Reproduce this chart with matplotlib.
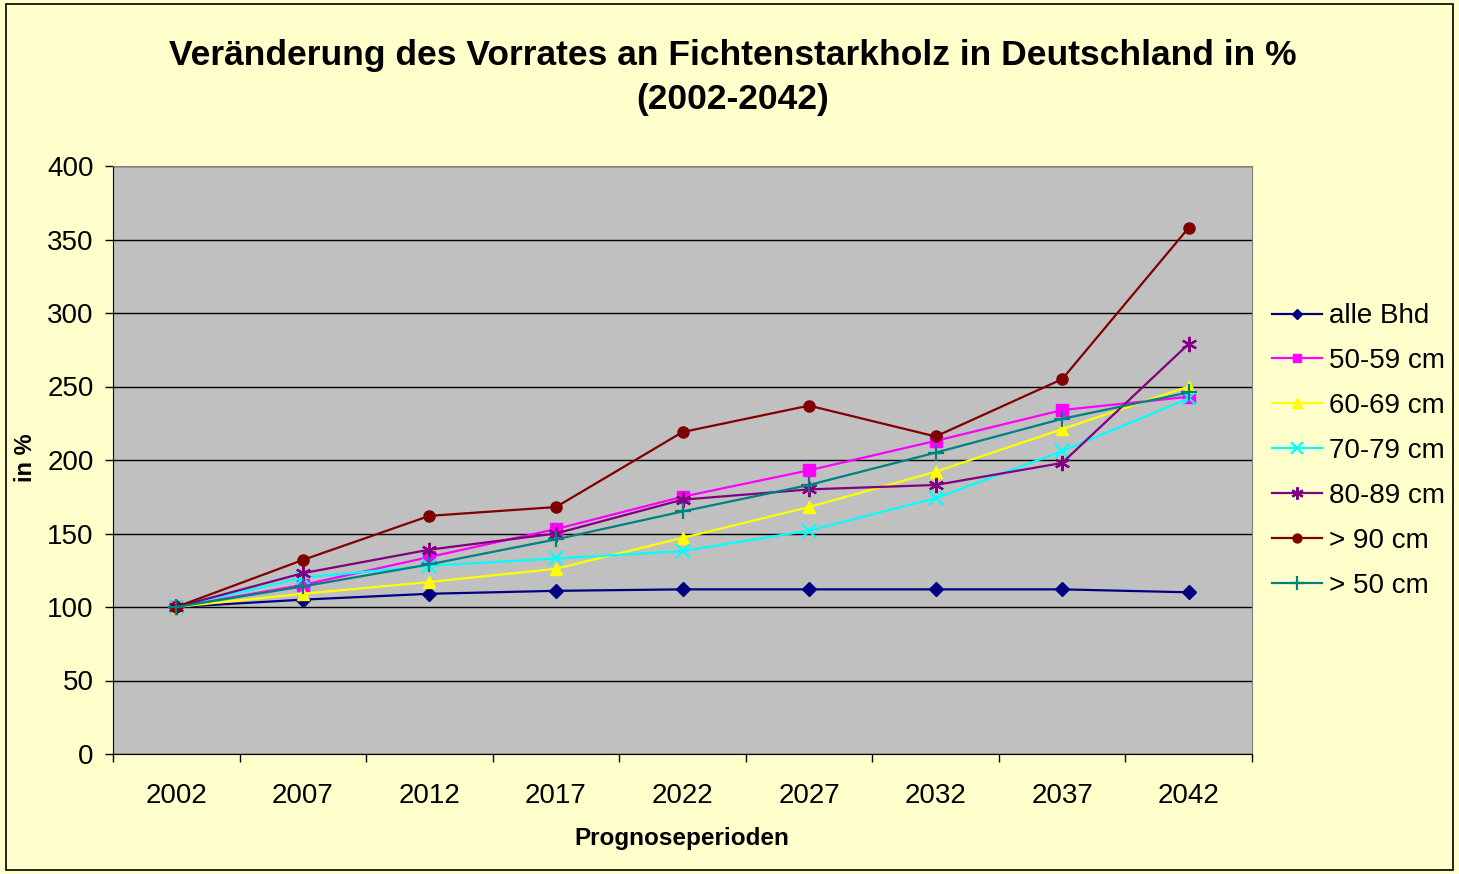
import matplotlib.pyplot as plt
from matplotlib.patches import Rectangle

plt.rcParams['font.family'] = ['Liberation Sans', 'DejaVu Sans']

# Prognoseperioden
years = ['2002', '2007', '2012', '2017', '2022', '2027', '2032', '2037', '2042']

# Vorrat in % (2002 = 100)
alle_bhd = [100, 105, 109, 111, 112, 112, 112, 112, 110]
bhd_50_59 = [100, 115, 134, 153, 175, 193, 213, 234, 243]
bhd_60_69 = [100, 109, 117, 126, 147, 168, 192, 221, 250]
bhd_70_79 = [100, 120, 128, 133, 138, 152, 174, 206, 242]
bhd_80_89 = [100, 123, 139, 150, 173, 180, 183, 198, 279]
bhd_ueber_90 = [100, 132, 162, 168, 219, 237, 216, 255, 358]
bhd_ueber_50 = [100, 114, 129, 146, 165, 183, 205, 228, 246]

labels = ['alle Bhd', '50-59 cm', '60-69 cm', '70-79 cm', '80-89 cm', '> 90 cm', '> 50 cm']
series = [alle_bhd, bhd_50_59, bhd_60_69, bhd_70_79, bhd_80_89, bhd_ueber_90, bhd_ueber_50]
colors = ['#000080', '#FF00FF', '#FFFF00', '#00FFFF', '#800080', '#800000', '#008080']
markers = ['D', 's', '^', 'x', (6, 2, 0), 'o', '+']
msizes = [7, 8, 9, 10, 11, 8, 12]

fig = plt.figure(figsize=(14.59, 8.74), dpi=100)
fig.patch.set_facecolor('#FFFFCC')
fig.patches.append(Rectangle((0.004, 0.005), 0.992, 0.99, transform=fig.transFigure,
                             fill=False, edgecolor='black', linewidth=1.2))

ax = fig.add_axes([113 / 1459, 1 - 754 / 874, (1252 - 113) / 1459, (754 - 166) / 874])
ax.set_facecolor('#C0C0C0')

x = list(range(len(years)))
handles = []
for vals, lab, col, mk, ms in zip(series, labels, colors, markers, msizes):
    mew = 1.6 if mk in ('x', '+') or isinstance(mk, tuple) else 1
    line, = ax.plot(x, vals, color=col, linewidth=1.6, marker=mk, markersize=ms,
                    markeredgecolor=col, markerfacecolor=col, markeredgewidth=mew,
                    label=lab, zorder=3)
    handles.append(line)

ax.set_xlim(-0.5, len(years) - 0.5)
ax.set_ylim(0, 400)
ax.set_yticks(range(0, 401, 50))
ax.yaxis.grid(True, color='black', linewidth=1)
ax.set_axisbelow(True)

ax.set_xticks(x)
ax.set_xticklabels(years)
ax.set_xticks([i - 0.5 for i in range(len(years) + 1)], minor=True)
ax.tick_params(axis='x', which='major', length=0, pad=21, labelsize=20)
ax.tick_params(axis='x', which='minor', length=6, direction='out', width=1)
ax.tick_params(axis='y', length=6, direction='out', width=1, labelsize=20, pad=8)

for s in ['left', 'bottom']:
    ax.spines[s].set_color('black')
for s in ['top', 'right']:
    ax.spines[s].set_color('#808080')

fig.text(0.502, 1 - 55 / 874, 'Veränderung des Vorrates an Fichtenstarkholz in Deutschland in %',
         ha='center', va='center', fontsize=25.5, fontweight='bold')
fig.text(0.502, 1 - 100 / 874, '(2002-2042)', ha='center', va='center', fontsize=25.5, fontweight='bold')

fig.text(26 / 1459, 1 - 458 / 874, 'in %', rotation=90, ha='center', va='center',
         fontsize=17, fontweight='bold')
fig.text(682 / 1459, 1 - 838 / 874, 'Prognoseperioden', ha='center', va='center',
         fontsize=17.5, fontweight='bold')

fig.legend(handles=handles, loc='center left', bbox_to_anchor=(1272 / 1459, 1 - 451 / 874),
           frameon=False, fontsize=20, handlelength=1.8, handletextpad=0.25,
           labelspacing=0.68, markerscale=0.8, borderpad=0, borderaxespad=0)

fig.savefig('out.png', dpi=100, facecolor=fig.get_facecolor())
